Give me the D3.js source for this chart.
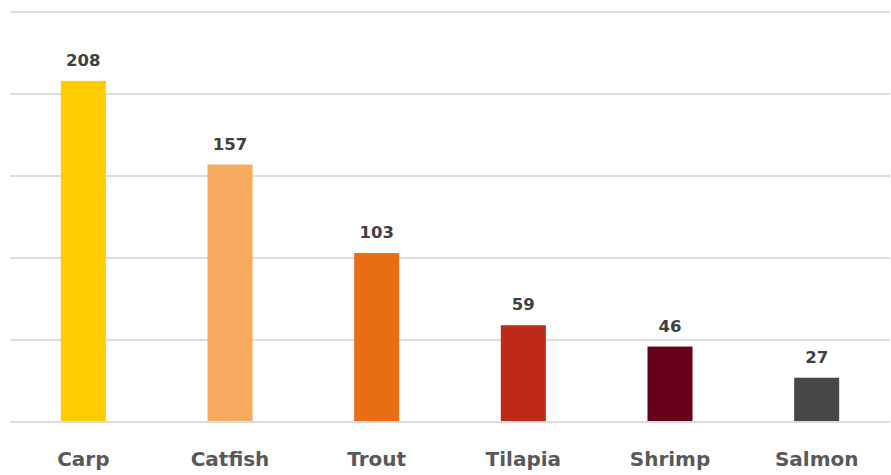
<!DOCTYPE html>
<html>
<head>
<meta charset="utf-8">
<script src="https://cdn.jsdelivr.net/npm/d3@7"></script>
<style>
  body { margin: 0; background: #fff; }
  text { font-family: "DejaVu Sans", sans-serif; font-weight: bold; }
</style>
</head>
<body>
<div id="chart"></div>
<script>
var w = 891, h = 475;

// data
var categories = ["Carp", "Catfish", "Trout", "Tilapia", "Shrimp", "Salmon"];
var values = [208, 157, 103, 59, 46, 27];
var colors = ["#ffcc00", "#f5aa5f", "#e86d14", "#bd2a17", "#670019", "#474747"];
var gridTicks = [0, 50, 100, 150, 200, 250];

var svg = d3.select("#chart").append("svg")
    .attr("width", w)
    .attr("height", h);

var x = d3.scaleBand()
    .domain(categories)
    .range([10, 890])
    .paddingInner(0.693)
    .paddingOuter(0.3465);

var y = d3.scaleLinear()
    .domain([0, 250])
    .range([422, 12]);

// gridlines
svg.selectAll(".grid")
    .data(gridTicks)
    .enter().append("line")
    .attr("class", "grid")
    .attr("x1", 10)
    .attr("x2", 890)
    .attr("y1", function (d) { return y(d); })
    .attr("y2", function (d) { return y(d); })
    .attr("stroke", "#dcdcdc")
    .attr("stroke-width", 2);

// bars
svg.selectAll(".bar")
    .data(values)
    .enter().append("rect")
    .attr("class", "bar")
    .attr("x", function (d, i) { return x(categories[i]); })
    .attr("y", function (d) { return y(d); })
    .attr("width", x.bandwidth())
    .attr("height", function (d) { return y(0) - y(d) - 1; })
    .attr("fill", function (d, i) { return colors[i]; });

// value labels
svg.selectAll(".val")
    .data(values)
    .enter().append("text")
    .attr("class", "val")
    .attr("x", function (d, i) { return x(categories[i]) + x.bandwidth() / 2; })
    .attr("y", function (d) { return y(d) - 15; })
    .attr("text-anchor", "middle")
    .attr("font-size", 16.5)
    .attr("fill", "#404040")
    .text(function (d) { return d; });

// category labels
var xAxis = d3.axisBottom(x).tickSize(0).tickPadding(0);
var gx = svg.append("g")
    .attr("transform", "translate(0," + 452 + ")")
    .call(xAxis);
gx.select(".domain").remove();
gx.selectAll("text")
    .attr("font-size", 20)
    .attr("font-family", "DejaVu Sans, sans-serif")
    .attr("font-weight", "bold")
    .attr("fill", "#595959");
</script>
</body>
</html>
